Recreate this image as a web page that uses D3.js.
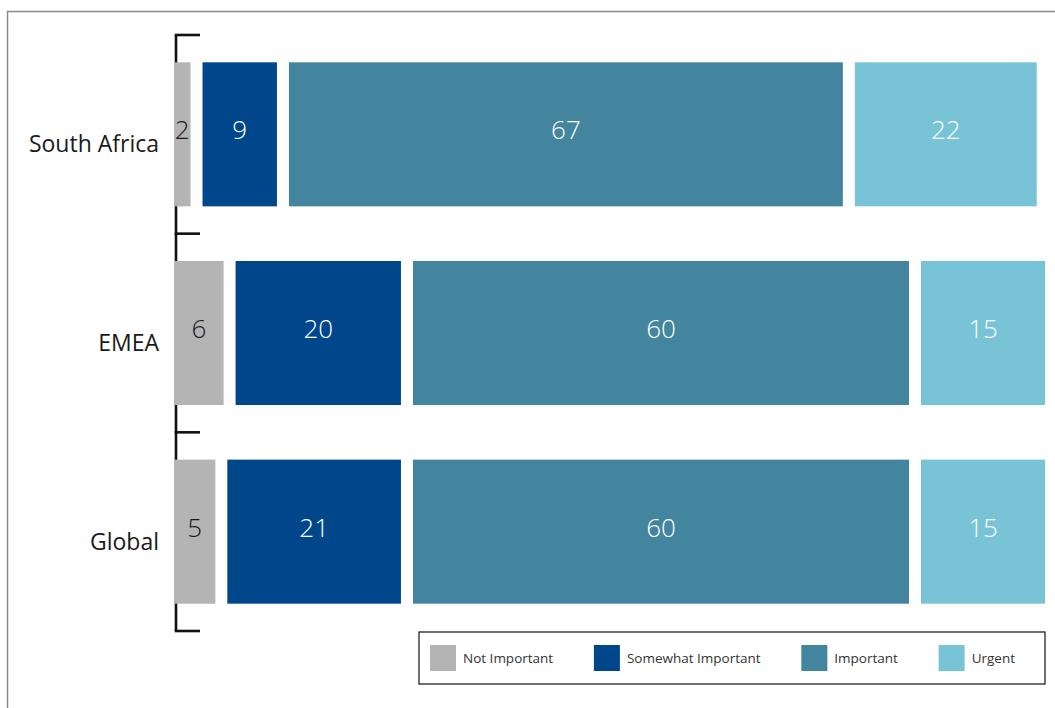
<!DOCTYPE html>
<html>
<head>
<meta charset="utf-8">
<script src="https://cdn.jsdelivr.net/npm/d3@7"></script>
<style>
  html, body { margin: 0; padding: 0; background: #fff; }
  svg { display: block; font-family: "Open Sans", "Noto Sans", sans-serif; }
</style>
</head>
<body>
<svg id="chart" width="1055" height="708"></svg>
<script>
// ---- data ----
const categories = ["South Africa", "EMEA", "Global"];
const seriesNames = ["Not Important", "Somewhat Important", "Important", "Urgent"];
const notImportant = [2, 6, 5];
const somewhatImportant = [9, 20, 21];
const important = [67, 60, 60];
const urgent = [22, 15, 15];
const seriesColors = ["#b3b4b3", "#00468b", "#43849e", "#78c4d6"];
const labelColors = ["#1a1a1a", "#ffffff", "#ffffff", "#ffffff"];

const seriesValues = [notImportant, somewhatImportant, important, urgent];

// ---- layout ----
const svg = d3.select("#chart");
const W = 1055, H = 708;
const plot = { left: 174, right: 1045, top: 35, bottom: 631 };
const gap = 12;
const barRatio = 0.725;

// outer frame
svg.append("rect")
  .attr("x", 7.5).attr("y", 11.5)
  .attr("width", W + 10).attr("height", H + 10)
  .attr("fill", "none").attr("stroke", "#8a8a8a").attr("stroke-width", 1.5);

const rows = categories.map((c, i) => {
  let cum = 0;
  const segs = seriesValues.map((vals, s) => {
    const seg = { cat: c, series: s, value: vals[i], start: cum };
    cum += vals[i];
    return seg;
  });
  return { cat: c, total: cum, segs };
});

const y = d3.scaleBand().domain(categories).range([plot.top, plot.bottom]).padding(0);
const x = d3.scaleLinear()
  .domain([0, d3.max(rows, r => r.total)])
  .range([0, plot.right - plot.left - gap * (seriesNames.length - 1)]);

const step = y.step();
const barH = step * barRatio;
const barOff = (step - barH) / 2;

// axis line + boundary ticks
const axisX = 176;
const axisG = svg.append("g").attr("stroke", "#111").attr("stroke-width", 2.6).attr("fill", "none");
axisG.append("line").attr("x1", axisX).attr("x2", axisX)
  .attr("y1", plot.top).attr("y2", plot.bottom);
const boundaries = categories.map(c => y(c)).concat([y(categories[categories.length - 1]) + step]);
axisG.selectAll("line.tick").data(boundaries).enter().append("line")
  .attr("class", "tick")
  .attr("x1", axisX - 1.3).attr("x2", axisX + 24)
  .attr("y1", d => d).attr("y2", d => d);

// clip for plot area
svg.append("clipPath").attr("id", "plotclip")
  .append("rect").attr("x", plot.left).attr("y", 0)
  .attr("width", plot.right - plot.left).attr("height", H);

const barsG = svg.append("g").attr("clip-path", "url(#plotclip)");
const rowG = barsG.selectAll("g.row").data(rows).enter().append("g").attr("class", "row");

rowG.selectAll("rect").data(r => r.segs).enter().append("rect")
  .attr("x", d => plot.left + x(d.start) + d.series * gap)
  .attr("y", d => y(d.cat) + barOff)
  .attr("width", d => x(d.value))
  .attr("height", barH)
  .attr("fill", d => seriesColors[d.series]);

rowG.selectAll("text").data(r => r.segs).enter().append("text")
  .attr("x", d => plot.left + x(d.start) + d.series * gap + x(d.value) / 2)
  .attr("y", d => y(d.cat) + step / 2 - 5)
  .attr("text-anchor", "middle")
  .attr("dominant-baseline", "central")
  .attr("font-size", 26)
  .attr("font-weight", 300)
  .attr("fill", d => labelColors[d.series])
  .text(d => d.value);

// category labels
svg.append("g").selectAll("text").data(categories).enter().append("text")
  .attr("x", 159)
  .attr("y", d => y(d) + step / 2 + 9)
  .attr("text-anchor", "end")
  .attr("dominant-baseline", "central")
  .attr("font-size", 23)
  .attr("fill", "#1a1a1a")
  .text(d => d);

// legend
const legend = { x: 419, y: 632, w: 626, h: 52, padL: 11, padR: 30, sw: 26, txtGap: 7 };
svg.append("rect")
  .attr("x", legend.x).attr("y", legend.y)
  .attr("width", legend.w).attr("height", legend.h)
  .attr("fill", "#fff").attr("stroke", "#222").attr("stroke-width", 1.3);

const legG = svg.append("g");
const items = legG.selectAll("g").data(seriesNames).enter().append("g");
items.append("rect")
  .attr("width", legend.sw).attr("height", legend.sw)
  .attr("y", legend.y + (legend.h - legend.sw) / 2)
  .attr("fill", (d, i) => seriesColors[i]);
items.append("text")
  .attr("y", legend.y + legend.h / 2)
  .attr("dominant-baseline", "central")
  .attr("font-size", 13.5)
  .attr("fill", "#333")
  .text(d => d);

const widths = [];
items.each(function () {
  widths.push(legend.sw + legend.txtGap + d3.select(this).select("text").node().getComputedTextLength());
});
const avail = legend.w - legend.padL - legend.padR;
const spacing = (avail - d3.sum(widths)) / (widths.length - 1);
let cx = legend.x + legend.padL;
items.each(function (d, i) {
  const g = d3.select(this);
  g.select("rect").attr("x", cx);
  g.select("text").attr("x", cx + legend.sw + legend.txtGap);
  cx += widths[i] + spacing;
});
</script>
</body>
</html>
